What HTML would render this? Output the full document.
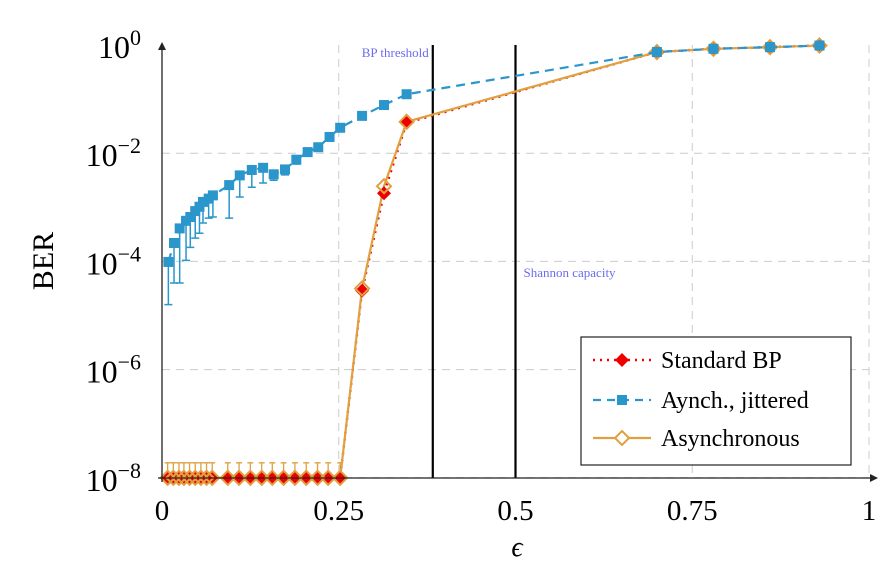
<!DOCTYPE html>
<html><head><meta charset="utf-8"><style>
body{margin:0;background:#fff}
svg{display:block;font-family:"Liberation Serif",serif}
</style></head><body>
<svg id="c" width="887" height="571">
<g id="grid"></g>
<g id="series"></g>
<g id="axes"></g>
<g id="legend">
<rect x="581" y="337" width="270" height="128" fill="#fff" stroke="#222" stroke-width="1.2"/>
<line x1="593" y1="360" x2="651" y2="360" stroke="#e00" stroke-width="2.4" stroke-dasharray="2,5"/>
<path d="M622 353 L629 360 L622 367 L615 360Z" fill="#e00"/>
<text x="661" y="368" font-size="24">Standard BP</text>
<line x1="593" y1="400" x2="651" y2="400" stroke="#2b96cc" stroke-width="2.2" stroke-dasharray="8,6"/>
<rect x="617" y="395" width="10" height="10" fill="#2b96cc"/>
<text x="661" y="408" font-size="24">Aynch., jittered</text>
<line x1="593" y1="438" x2="651" y2="438" stroke="#e0a040" stroke-width="2.2"/>
<path d="M622 431 L629 438 L622 445 L615 438Z" fill="#fff" stroke="#e0a040" stroke-width="2"/>
<text x="661" y="446" font-size="24">Asynchronous</text>
</g>
</svg>
<script>
const blueX=[0.009,0.017,0.025,0.034,0.040,0.047,0.053,0.058,0.066,0.072,0.095,0.110,0.127,0.143,0.158,0.174,0.190,0.206,0.221,0.237,0.252,0.283,0.314,0.346,0.70,0.78,0.86,0.93];
const blueY=[-4.01,-3.66,-3.39,-3.25,-3.18,-3.07,-2.99,-2.90,-2.84,-2.78,-2.59,-2.41,-2.31,-2.27,-2.39,-2.30,-2.12,-1.98,-1.89,-1.70,-1.53,-1.31,-1.11,-0.91,-0.13,-0.07,-0.04,-0.01];
const blueLow=[-4.8,-4.4,-4.4,-3.98,-3.74,-3.57,-3.48,-3.29,-3.2,-3.18,-3.2,-2.81,-2.63,-2.55,-2.5,-2.4,-2.2,-2.05,-1.95,-1.75,-1.58,-1.35,-1.15,-0.95,-0.15,-0.09,-0.06,-0.03];
const redX=[0.008,0.016,0.024,0.031,0.039,0.047,0.055,0.063,0.071,0.093,0.109,0.125,0.141,0.156,0.172,0.188,0.204,0.220,0.235,0.252,0.283,0.314,0.346,0.70,0.78,0.86,0.93];
const redY=[-8,-8,-8,-8,-8,-8,-8,-8,-8,-8,-8,-8,-8,-8,-8,-8,-8,-8,-8,-8,-4.54,-2.74,-1.44,-0.13,-0.07,-0.04,-0.01];
const orangeY=[-8,-8,-8,-8,-8,-8,-8,-8,-8,-8,-8,-8,-8,-8,-8,-8,-8,-8,-8,-8,-4.50,-2.61,-1.42,-0.13,-0.07,-0.04,-0.01];
const xTicks=[0,0.25,0.5,0.75,1];
const xTickLabels=["0","0.25","0.5","0.75","1"];
const yTicks=[0,-2,-4,-6,-8];
const vLines=[0.383,0.5];
const NS="http://www.w3.org/2000/svg";
const X=v=>162+v*707, Y=v=>45-v*54.1;
function mk(p,t,a){const e=document.createElementNS(NS,t);for(const k in a)e.setAttribute(k,a[k]);p.appendChild(e);return e;}
const G=document.getElementById('grid'),S=document.getElementById('series'),A=document.getElementById('axes');
xTicks.forEach((t,i)=>{if(t>0){const l=mk(G,'line',{x1:X(t),x2:X(t),y1:45,y2:478,stroke:'#ccc','stroke-dasharray':'8,6'});

}
const tx=mk(A,'text',{x:X(t),y:520,'font-size':29,'text-anchor':'middle'});tx.textContent=xTickLabels[i];

});
yTicks.forEach(t=>{if(t<0){const l=mk(G,'line',{x1:162,x2:869,y1:Y(t),y2:Y(t),stroke:'#ccc','stroke-dasharray':'8,6'});

}
const tx=mk(A,'text',{x:141,y:Y(t)+13,'font-size':32,'text-anchor':'end'});tx.innerHTML='10<tspan dy="-13" font-size="22">'+(t<0?'−'+(-t):t)+'</tspan>';

});
mk(A,'line',{x1:162,y1:482,x2:162,y2:48,stroke:'#222','stroke-width':1.3});
mk(A,'path',{d:'M158 50 L162 42 L166 50Z',fill:'#222'});
mk(A,'line',{x1:158,y1:478,x2:872,y2:478,stroke:'#222','stroke-width':1.3});
mk(A,'path',{d:'M870 474 L878 478 L870 482Z',fill:'#222'});
let t=mk(A,'text',{x:53,y:261,'font-size':30,'text-anchor':'middle',transform:'rotate(-90 53 261)'});t.textContent='BER';


t=mk(A,'text',{x:517,y:556,'font-size':28,'text-anchor':'middle','font-style':'italic'});t.textContent='ϵ';


vLines.forEach(v=>{const l=mk(S,'line',{x1:X(v),x2:X(v),y1:45,y2:478,stroke:'#000','stroke-width':2.2});

});
t=mk(S,'text',{x:X(vLines[0])-4,y:57,'font-size':13,fill:'#6b6bf0','text-anchor':'end'});t.textContent='BP threshold';


t=mk(S,'text',{x:X(vLines[1])+8,y:277,'font-size':13,fill:'#6b6bf0'});t.textContent='Shannon capacity';


redX.forEach((x,i)=>{if(redY[i]<=-8){const e=mk(S,'path',{d:`M${X(x)} ${Y(-8)} V${Y(-8)-15} M${X(x)-3} ${Y(-8)-15} H${X(x)+3}`,stroke:'#e0a040','stroke-width':1.3,fill:'none'});

}});
let p=mk(S,'polyline',{points:redX.map((x,i)=>X(x)+','+Y(redY[i])).join(' '),fill:'none',stroke:'#e00','stroke-width':2.4,'stroke-dasharray':'2,5'});


p=mk(S,'polyline',{points:redX.map((x,i)=>X(x)+','+Y(orangeY[i])).join(' '),fill:'none',stroke:'#e0a040','stroke-width':2.2});


redX.forEach((x,i)=>{const cx=X(x),cy=Y(redY[i]);const d=mk(S,'path',{d:`M${cx} ${cy-7} L${cx+7} ${cy} L${cx} ${cy+7} L${cx-7} ${cy}Z`,fill:'#e00'});

});
redX.forEach((x,i)=>{const cx=X(x),cy=Y(orangeY[i]);const d=mk(S,'path',{d:`M${cx} ${cy-7} L${cx+7} ${cy} L${cx} ${cy+7} L${cx-7} ${cy}Z`,fill:'none',stroke:'#e0a040','stroke-width':2});

});
const bc='#2b96cc';
blueX.forEach((x,i)=>{const e=mk(S,'path',{d:`M${X(x)} ${Y(blueY[i])-4} V${Y(blueLow[i])} M${X(x)-4} ${Y(blueLow[i])} H${X(x)+4} M${X(x)-4} ${Y(blueY[i])-4} H${X(x)+4}`,stroke:bc,'stroke-width':1.5,fill:'none'});

});
p=mk(S,'polyline',{points:blueX.map((x,i)=>X(x)+','+Y(blueY[i])).join(' '),fill:'none',stroke:bc,'stroke-width':2.2,'stroke-dasharray':'9,6'});


blueX.forEach((x,i)=>{const r=mk(S,'rect',{x:X(x)-5,y:Y(blueY[i])-5,width:10,height:10,fill:bc});

});
</script>
</body></html>
